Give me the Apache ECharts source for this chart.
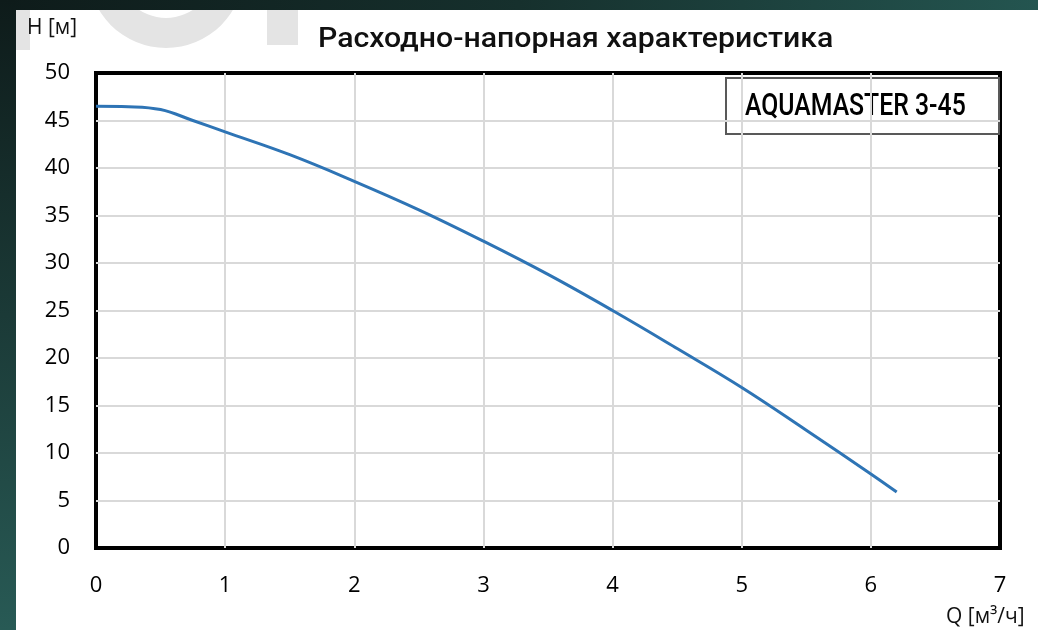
<!DOCTYPE html>
<html>
<head>
<meta charset="utf-8">
<script src="https://cdn.jsdelivr.net/npm/echarts@6/dist/echarts.min.js"></script>
<style>
  html, body { margin: 0; padding: 0; }
  #wrap { position: relative; width: 1038px; height: 630px; overflow: hidden; }
  #main { position: relative; z-index: 1; width: 1038px; height: 630px; background: #fff; }
  .band-top { position: absolute; z-index: 5; left: 0; top: 0; width: 1038px; height: 10px;
    background: linear-gradient(90deg, #0e1b1a, #16302d 50%, #245550); }
  .band-left { position: absolute; z-index: 5; left: 0; top: 0; width: 16px; height: 630px;
    background: linear-gradient(180deg, #0e1b1a, #1b3a37 50%, #285a55); }
</style>
</head>
<body>
<div id="wrap">
  <div id="main"></div>
  <div class="band-top"></div>
  <div class="band-left"></div>
</div>
<script>
  // Q [м3/ч] and H [м]
  var flowQ = [0, 0.25, 0.5, 0.75, 1, 1.5, 2, 2.5, 3, 3.5, 4, 4.5, 5, 5.5, 6, 6.2];
  var headH = [46.5, 46.45, 46.15, 45.0, 43.8, 41.4, 38.6, 35.6, 32.3, 28.8, 25.0, 21.0, 16.9, 12.4, 7.8, 5.9];
  var xRange = [0, 7, 1];
  var yRange = [0, 50, 5];
  var titleText = 'Расходно-напорная характеристика';
  var modelName = 'AQUAMASTER 3-45';
  var yName = 'H [м]';
  var xName = 'Q [м³/ч]';

  var points = flowQ.map(function (q, i) { return [q, headH[i]]; });

  var myChart = echarts.init(document.getElementById('main'));

  var labelFont = '"Open Sans", Lato, sans-serif';

  var option = {
    animation: false,
    grid: {
      left: 96, right: 38, top: 73, bottom: 82,
      show: true,
      borderColor: '#000',
      borderWidth: 4
    },
    xAxis: {
      type: 'value',
      min: xRange[0], max: xRange[1], interval: xRange[2],
      axisLine: { show: false },
      axisTick: { show: false },
      axisLabel: { color: '#000', fontSize: 22, fontFamily: labelFont, margin: 27 },
      splitLine: { show: true, showMinLine: false, showMaxLine: false, lineStyle: { color: '#d9d9d9', width: 2 } }
    },
    yAxis: {
      type: 'value',
      min: yRange[0], max: yRange[1], interval: yRange[2],
      axisLine: { show: false },
      axisTick: { show: false },
      axisLabel: { color: '#000', fontSize: 22, fontFamily: labelFont, margin: 26 },
      splitLine: { show: true, showMinLine: false, showMaxLine: false, lineStyle: { color: '#d9d9d9', width: 2 } }
    },
    graphic: [
      // faint watermark pieces
      { type: 'rect', z: -10, shape: { x: 16, y: 10, width: 14, height: 40 }, style: { fill: '#e4e4e4' } },
      { type: 'ring', z: -10, shape: { cx: 166, cy: -30, r: 78, r0: 48 }, style: { fill: '#e4e4e4' } },
      { type: 'rect', z: -10, shape: { x: 267, y: 10, width: 31, height: 35 }, style: { fill: '#e4e4e4' } },
      {
        type: 'text', x: 318, y: 40, scaleX: 1.08, z: 50,
        style: { text: titleText, fill: '#111', font: '500 28px Roboto, sans-serif', verticalAlign: 'middle' }
      },
      {
        type: 'text', x: 27, y: 28, z: 50,
        style: { text: yName, fill: '#111', font: '21px ' + labelFont, verticalAlign: 'middle' }
      },
      {
        type: 'text', x: 946, y: 617, z: 50,
        style: { text: xName, fill: '#111', font: '21px ' + labelFont, verticalAlign: 'middle' }
      },
      {
        type: 'group', x: 726, y: 78, z: 100,
        children: [
          { type: 'rect', shape: { x: 0, y: 0, width: 273, height: 56 }, style: { fill: '#fff', stroke: '#595959', lineWidth: 2 } },
          { type: 'text', x: 19, y: 29, scaleX: 0.8, style: { text: modelName, fill: '#000', font: '500 31px Roboto, sans-serif', verticalAlign: 'middle' } }
        ]
      }
    ],
    series: [
      {
        type: 'line',
        data: points,
        smooth: 0.4,
        showSymbol: false,
        lineStyle: { color: '#2e74b5', width: 3 }
      }
    ]
  };

  myChart.setOption(option);
</script>
</body>
</html>
